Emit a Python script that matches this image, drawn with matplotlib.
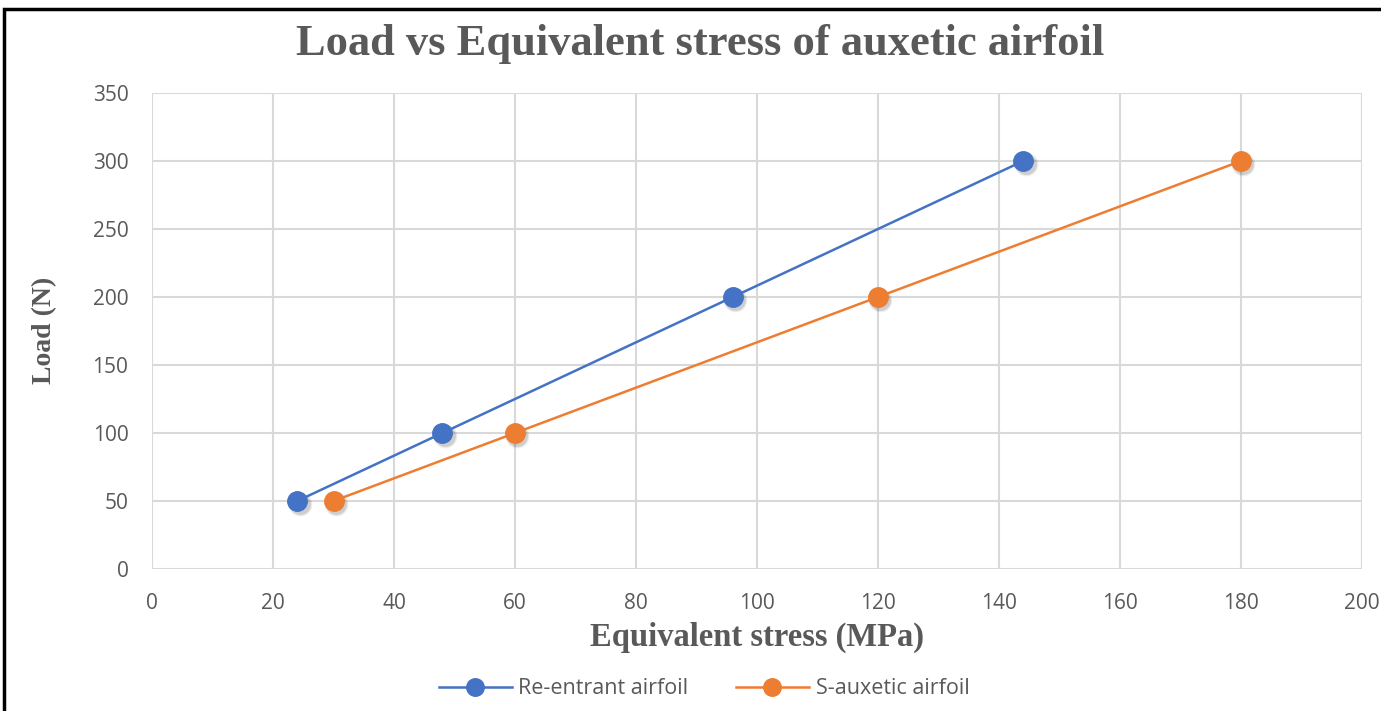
import matplotlib
matplotlib.use("Agg")
import matplotlib.pyplot as plt
from matplotlib.patches import Rectangle

re_stress = [24, 48, 96, 144]
re_load = [50, 100, 200, 300]
s_stress = [30, 60, 120, 180]
s_load = [50, 100, 200, 300]
x_ticks = [0, 20, 40, 60, 80, 100, 120, 140, 160, 180, 200]
y_ticks = [0, 50, 100, 150, 200, 250, 300, 350]

W, H = 1381, 711
fig = plt.figure(figsize=(W / 100, H / 100), dpi=100)
ax = fig.add_axes([152 / W, 1 - 569 / H, (1362 - 152) / W, (569 - 93) / H])

ax.plot(re_stress, re_load, color='#4472C4', lw=1.8, marker='o', ms=14,
        label='Re-entrant airfoil', zorder=3)
ax.plot(s_stress, s_load, color='#ED7D31', lw=1.8, marker='o', ms=14,
        label='S-auxetic airfoil', zorder=3)
for xs, ys in [(re_stress, re_load), (s_stress, s_load)]:
    ax.plot([x + 0.4 for x in xs], [y - 2.5 for y in ys], 'o', ms=17, color='k',
            alpha=0.08, mew=0, zorder=2)
    ax.plot([x + 0.4 for x in xs], [y - 2.5 for y in ys], 'o', ms=15, color='k',
            alpha=0.12, mew=0, zorder=2)

ax.set_xlim(0, 200)
ax.set_ylim(0, 350)
ax.set_xticks(x_ticks)
ax.set_yticks(y_ticks)
ax.grid(True, color='#D9D9D9', lw=1.5)
ax.set_axisbelow(True)
for s in ax.spines.values():
    s.set_visible(False)
ax.tick_params(length=0, labelsize=15, labelcolor='#595959')
ax.tick_params(axis='x', pad=17)
ax.tick_params(axis='y', pad=17)
for lab in ax.get_xticklabels() + ax.get_yticklabels():
    lab.set_family('Open Sans')

fig.text(700 / W, 1 - 44 / H, 'Load vs Equivalent stress of auxetic airfoil',
         ha='center', va='center', family='Liberation Serif', weight='bold',
         fontsize=32, color='#595959')
fig.text(757 / W, 1 - 637 / H, 'Equivalent stress (MPa)', ha='center', va='center',
         family='Liberation Serif', weight='bold', fontsize=23.5, color='#595959')
fig.text(45 / W, 1 - 330 / H, 'Load (N)', ha='center', va='center', rotation=90,
         family='Liberation Serif', weight='bold', fontsize=20, color='#595959')

leg = fig.legend(loc='center', bbox_to_anchor=(704 / W, 1 - 689 / H), ncol=2, frameon=False,
                 prop={'family': 'Open Sans', 'size': 15.5}, labelcolor='#595959',
                 handlelength=3.4, handletextpad=0.3, columnspacing=2.2, markerscale=0.9)

fig.patches.append(Rectangle((4 / W, -0.1), 1.2, 1 - 9 / H + 0.1, transform=fig.transFigure,
                             fill=False, edgecolor='black', lw=2.5))
fig.savefig('out.png', dpi=100, facecolor='white')
